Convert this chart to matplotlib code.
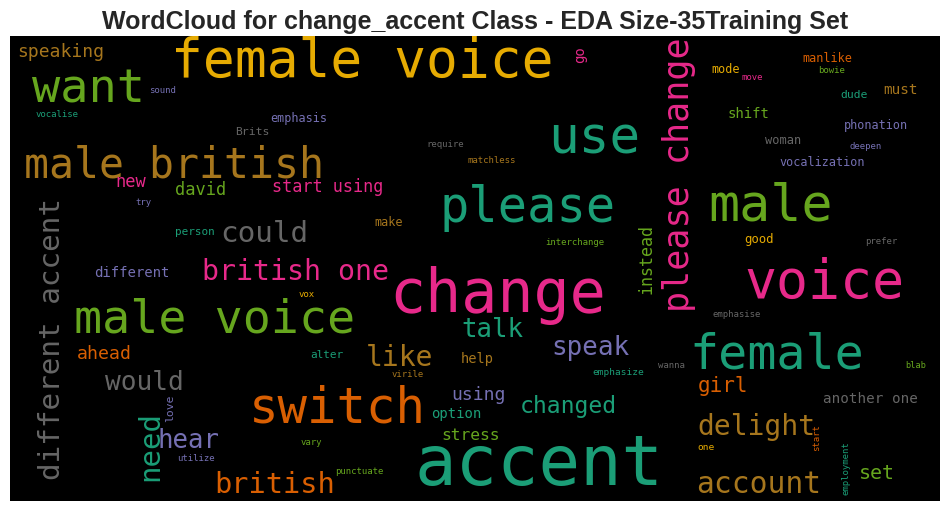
import matplotlib
matplotlib.use("Agg")
import matplotlib.pyplot as plt

# ---- data ----
words = [
    "speaking", "want", "female voice", "sound", "vocalise", "emphasis", "Brits",
    "male british", "require", "matchless", "use", "mode", "move", "manlike",
    "bowie", "dude", "must", "shift", "phonation", "woman", "deepen",
    "vocalization", "new", "david", "start using", "try", "could", "person",
    "british one", "different", "vox", "male voice", "please", "make",
    "interchange", "change", "talk", "male", "good", "prefer", "voice",
    "emphasise", "female", "ahead", "would", "hear", "utilize", "british",
    "switch", "alter", "like", "help", "virile", "speak", "emphasize", "using",
    "changed", "option", "stress", "vary", "punctuate", "accent", "wanna",
    "blab", "girl", "another one", "delight", "one", "set", "account",
    "go", "please change", "instead", "different accent", "need", "love",
    "start", "employment",
]
# relative word weight (rendered glyph em size, pixels)
weights = [
    18, 47, 53, 9, 9, 11.7, 11.4,
    41.5, 9, 9, 51, 11.8, 9, 11.7,
    9, 11.4, 14.4, 14, 11.7, 12, 9,
    11.7, 17, 17, 16.8, 9, 29.4, 11,
    28.3, 14, 9, 46.6, 48.7, 11.8,
    9, 60, 25.8, 51.6, 12.2, 9, 53.3,
    9, 48.4, 18.3, 26.3, 25.8, 9, 28.6,
    49, 11, 28, 13.6, 8.9, 26, 9.5, 18,
    23, 14, 16.3, 9, 9, 69, 9,
    8.7, 21, 14.3, 28, 9.5, 20, 29.6,
    14, 35, 16.6, 29.4, 29, 11.4,
    9, 9,
]
# colour index into the Dark2 palette
color_idx = [
    6, 4, 5, 2, 0, 2, 7,
    6, 7, 6, 0, 5, 3, 1,
    4, 0, 6, 4, 2, 7, 2,
    2, 3, 4, 3, 2, 7, 0,
    3, 2, 5, 4, 0, 6,
    4, 3, 0, 4, 5, 7, 3,
    7, 0, 1, 7, 2, 2, 1,
    1, 0, 6, 6, 6, 2, 0, 2,
    0, 0, 4, 4, 4, 0, 7,
    4, 1, 7, 6, 5, 4, 6,
    3, 3, 4, 7, 0, 2,
    1, 0,
]

# ---- layout (image pixel coordinates: left / baseline; rotated: baseline x / bottom) ----
pos_x = [
    18, 35, 175, 150, 36, 271, 236,
    27, 427, 468, 552, 712, 742, 803,
    819, 841, 884, 729, 845, 766, 850,
    780, 117, 176, 273, 136, 222, 176,
    204, 95, 299, 77, 443, 375,
    546, 393, 463, 712, 745, 866, 748,
    713, 693, 78, 107, 159, 178, 216,
    252, 311, 368, 462, 392, 553, 593, 453,
    521, 432, 442, 301, 336, 419, 659,
    906, 699, 824, 699, 698, 860, 698,
    584, 689, 651, 60, 158, 173,
    819, 848,
]
pos_y = [
    57, 102, 77, 93, 117, 122, 135,
    177, 147, 163, 153, 73, 80, 62,
    73, 98, 94, 118, 129, 144, 149,
    166, 187, 195, 192, 205, 242, 235,
    280, 277, 297, 332, 222, 226,
    245, 312, 337, 220, 243, 244, 298,
    317, 368, 359, 390, 448, 461, 493,
    422, 358, 366, 363, 377, 355, 375, 400,
    413, 418, 440, 445, 474, 485, 368,
    368, 392, 403, 435, 450, 479, 493,
    62, 310, 293, 478, 479, 421,
    450, 494,
]
rotated = [False] * 70 + [True] * 8

palette = ["#1b9e77", "#d95f02", "#7570b3", "#e7298a",
           "#66a61e", "#e6ab02", "#a6761d", "#666666"]

W, H, DPI = 950, 511, 100
fig = plt.figure(figsize=(W / DPI, H / DPI), dpi=DPI)
fig.patch.set_facecolor("white")

left, right, top, bottom = 10, 940, 36, 501
ax = fig.add_axes([left / W, (H - bottom) / H, (right - left) / W, (bottom - top) / H])
ax.set_facecolor("black")
ax.set_xlim(left, right)
ax.set_ylim(bottom, top)
ax.set_xticks([])
ax.set_yticks([])
for s in ax.spines.values():
    s.set_visible(False)

for w, em, ci, x, y, rot in zip(words, weights, color_idx, pos_x, pos_y, rotated):
    fs = em * 72.0 / DPI
    bear = 0.07 * em
    if rot:
        ax.text(x, y + bear, w, rotation=90, rotation_mode="anchor",
                ha="left", va="baseline", fontsize=fs,
                family="DejaVu Sans Mono", color=palette[ci])
    else:
        ax.text(x - bear, y, w, ha="left", va="baseline", fontsize=fs,
                family="DejaVu Sans Mono", color=palette[ci])

fig.text(0.5, (H - 29) / H, "WordCloud for change_accent Class - EDA Size-35Training Set",
         ha="center", va="baseline", fontsize=18, fontweight="bold",
         family="Liberation Sans", color="#262626")

fig.savefig("out.png", dpi=DPI, facecolor="white")
